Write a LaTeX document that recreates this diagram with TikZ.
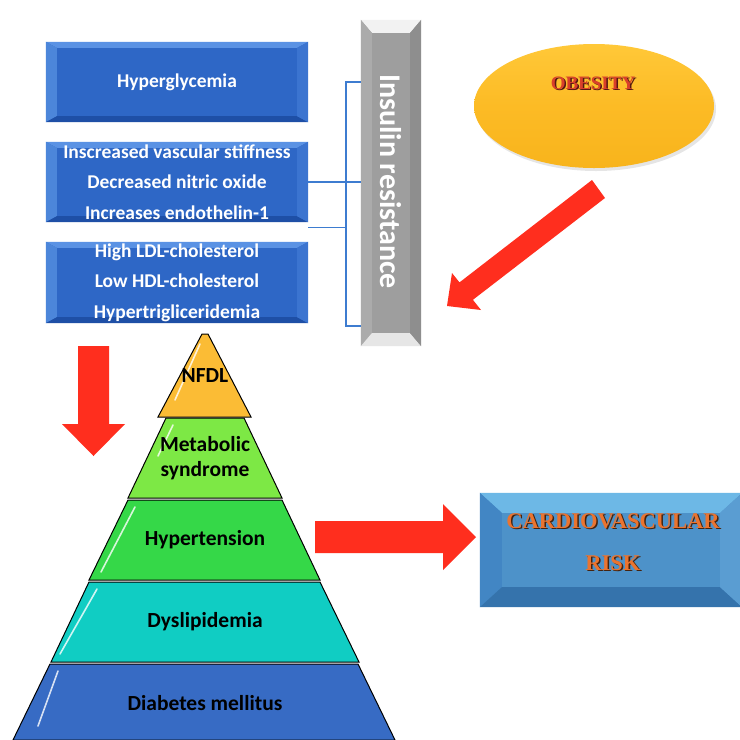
\documentclass[tikz,border=0pt]{standalone}
\usepackage{fontspec}
\setmainfont{Carlito}
\newfontfamily\timesf{Liberation Serif}
\usetikzlibrary{shapes.geometric,backgrounds,shadows}
\definecolor{boxblue}{HTML}{2E67C6}
\definecolor{boxtop}{HTML}{5A92E4}
\definecolor{boxleft}{HTML}{4C86DA}
\definecolor{boxbot}{HTML}{1E4FA6}
\definecolor{boxright}{HTML}{3B74D0}
\definecolor{barbase}{HTML}{9E9E9E}
\definecolor{bartop}{HTML}{F2F2F2}
\definecolor{barleft}{HTML}{ABABAB}
\definecolor{barbot}{HTML}{E6E6E6}
\definecolor{barright}{HTML}{8E8E8E}
\definecolor{cvbase}{HTML}{4D92C9}
\definecolor{cvtop}{HTML}{6DB8E6}
\definecolor{cvleft}{HTML}{4286C4}
\definecolor{cvbot}{HTML}{3573AC}
\definecolor{cvright}{HTML}{5A9DD2}
\definecolor{arrowred}{HTML}{FF2E1E}
\definecolor{linkblue}{HTML}{3D7CD0}
\definecolor{tierA}{HTML}{FBBC35}
\definecolor{tierB}{HTML}{7DE845}
\definecolor{tierC}{HTML}{35D848}
\definecolor{tierD}{HTML}{10CDC3}
\definecolor{tierE}{HTML}{376BC4}
\definecolor{obred}{HTML}{D9402A}
\definecolor{cvorange}{HTML}{EA7430}
\definecolor{obtop}{HTML}{FFC838}
\definecolor{obmid}{HTML}{FCBB25}
\definecolor{obbot}{HTML}{F8B41C}
\newcommand\bevelfill[8]{%
  \fill[#4] (#1.north west) rectangle (#1.south east);
  \fill[#5] (#1.north west) -- (#1.north east) -- ([xshift=-#2,yshift=-#3]#1.north east) -- ([xshift=#2,yshift=-#3]#1.north west) -- cycle;
  \fill[#6] (#1.north west) -- ([xshift=#2,yshift=-#3]#1.north west) -- ([xshift=#2,yshift=#3]#1.south west) -- (#1.south west) -- cycle;
  \fill[#7] (#1.south west) -- ([xshift=#2,yshift=#3]#1.south west) -- ([xshift=-#2,yshift=#3]#1.south east) -- (#1.south east) -- cycle;
  \fill[#8] (#1.south east) -- ([xshift=-#2,yshift=#3]#1.south east) -- ([xshift=-#2,yshift=-#3]#1.north east) -- (#1.north east) -- cycle;
}
\begin{document}
\begin{tikzpicture}[x=1pt,y=-1pt,
  bluebox/.style={minimum width=262pt,inner sep=0pt,text=white,align=center,
    font=\fontsize{19.5}{30.5}\selectfont\bfseries},
  tiertext/.style={font=\fontsize{21.5}{25}\selectfont\bfseries,align=center,text=black},
  tier/.style={draw=black,line width=1pt},
  gloss/.style={white,opacity=0.8,line width=1.6pt,line cap=round},
  redarrow/.style={fill=arrowred},
  link/.style={draw=linkblue,line width=1.3pt}]
\useasboundingbox (0,0) rectangle (740,740);
\begin{scope}[on background layer]
  \fill[white] (0,0) rectangle (740,740);
\end{scope}

% left blue boxes
\node[bluebox,minimum height=80pt] (b1) at (177,82) {Hyperglycemia};
\node[bluebox,minimum height=80pt] (b2) at (177,182) {Inscreased vascular stiffness\\Decreased nitric oxide\\Increases endothelin-1};
\node[bluebox,minimum height=81pt] (b3) at (177,282.5) {High LDL-cholesterol\\Low HDL-cholesterol\\Hypertrigliceridemia};

% insulin resistance bar
\node[minimum width=60pt,minimum height=326pt,inner sep=0pt] (bar) at (391,183) {};
\node[rotate=-90,text=white,font=\fontsize{30}{32}\selectfont\bfseries] (ir) at (391,181.5) {Insulin resistance};

% cardiovascular box
\node[minimum width=262pt,minimum height=114pt,inner sep=0pt] (cv) at (611,550) {};
\node[text=black!70!cvorange,font=\timesf\fontsize{22.5}{42}\selectfont\bfseries,align=center] (cvshadow) at (614.5,543.5) {CARDIOVASCULAR\\RISK};
\node[text=cvorange,font=\timesf\fontsize{22.5}{42}\selectfont\bfseries,align=center] (cvtext) at (613,542) {CARDIOVASCULAR\\RISK};

\begin{scope}[on background layer]
  \bevelfill{b1}{11pt}{6pt}{boxblue}{boxtop}{boxleft}{boxbot}{boxright}
  \bevelfill{b2}{11pt}{6pt}{boxblue}{boxtop}{boxleft}{boxbot}{boxright}
  \bevelfill{b3}{11pt}{6pt}{boxblue}{boxtop}{boxleft}{boxbot}{boxright}
  \bevelfill{bar}{11pt}{13pt}{barbase}{bartop}{barleft}{barbot}{barright}
  \bevelfill{cv}{22pt}{20pt}{cvbase}{cvtop}{cvleft}{cvbot}{cvright}
\end{scope}

% obesity ellipse
\node[ellipse,minimum width=240pt,minimum height=124pt,inner sep=0pt,
  top color=obtop,bottom color=obbot,middle color=obmid,
  drop shadow={shadow xshift=2pt,shadow yshift=-3pt,opacity=0.2}] (ob) at (594,106) {};
\node[text=black!60!obred,font=\timesf\fontsize{19}{20}\selectfont\bfseries] (obshadow) at (594.5,84.5) {OBESITY};
\node[text=obred,font=\timesf\fontsize{19}{20}\selectfont\bfseries] (obtext) at (593,83) {OBESITY};

% bracket connectors
\coordinate (bt) at (346,82);
\coordinate (bb) at (346,326);
\coordinate (bm) at ([yshift=-5pt]b2.south east);
\draw[link] (bar.west |- bt) -- (bt) -- (bb) -- (bar.west |- bb);
\draw[link] (b2.east) -- (bar.west |- b2.east);
\draw[link] (bm) -- (bt |- bm);

% red block arrows
\fill[redarrow] (592,180) -- (459.5,282.4) -- (452,273) -- (447,306) -- (481,310) -- (472.9,299.8) -- (605,198) -- cycle;
\fill[redarrow] (78,346) -- (109,346) -- (109,424) -- (125,424) -- (93.5,456) -- (62,424) -- (78,424) -- cycle;
\fill[redarrow] (315,521) -- (443,521) -- (443,504) -- (476,537) -- (443,570) -- (443,553) -- (315,553) -- cycle;

% pyramid
\path[tier,fill=tierE] (50,664) -- (358,664) -- (395,740) -- (13,740) -- cycle;
\path[tier,fill=tierD] (89,582) -- (320,582) -- (359,662) -- (51,662) -- cycle;
\path[tier,fill=tierC] (128,500) -- (282,500) -- (320,580) -- (89,580) -- cycle;
\path[tier,fill=tierB] (166,418) -- (244,418) -- (282,498) -- (128,498) -- cycle;
\path[tier,fill=tierA] (202,334) -- (208,334) -- (251,417) -- (158,417) -- cycle;
\draw[gloss] (200,344) -- (175,400);
\draw[gloss] (173,425) -- (158,456);
\draw[gloss] (135,507) -- (101,572);
\draw[gloss] (97,589) -- (60,654);
\draw[gloss] (58,671) -- (38,726);

\node[tiertext] (t1) at (205,376) {NFDL};
\node[tiertext] (t2) at (205,458) {Metabolic\\syndrome};
\node[tiertext] (t3) at (205,540) {Hypertension};
\node[tiertext] (t4) at (205,622) {Dyslipidemia};
\node[tiertext] (t5) at (205,703) {Diabetes mellitus};
\end{tikzpicture}
\end{document}
